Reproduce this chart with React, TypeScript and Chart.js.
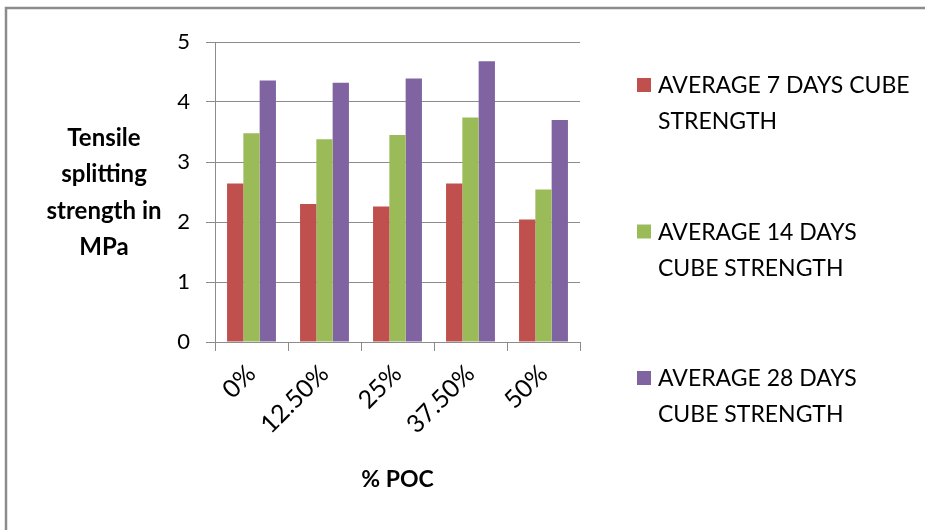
import React, { useEffect, useRef } from "react";
import { Chart, registerables } from "chart.js";

Chart.register(...registerables);

const categories = ["0%", "12.50%", "25%", "37.50%", "50%"];
const day7 = [2.64, 2.3, 2.26, 2.64, 2.04];
const day14 = [3.48, 3.38, 3.45, 3.74, 2.54];
const day28 = [4.36, 4.32, 4.39, 4.68, 3.7];
const seriesLabels = [
  ["AVERAGE 7 DAYS CUBE", "STRENGTH"],
  ["AVERAGE 14 DAYS", "CUBE STRENGTH"],
  ["AVERAGE 28 DAYS", "CUBE STRENGTH"],
];
const seriesColors = ["#C0504D", "#9BBB59", "#8064A2"];
const yTitle = ["Tensile", "splitting", "strength in", "MPa"];
const xTitle = "% POC";

const FONT = "Lato, 'Open Sans', sans-serif";

const decorPlugin = {
  id: "decor",
  afterDraw(chart: any) {
    const ctx = chart.ctx as CanvasRenderingContext2D;
    const area = chart.chartArea;
    ctx.save();
    ctx.strokeStyle = "#8c8c8c";
    ctx.lineWidth = 2.5;
    ctx.beginPath();
    ctx.moveTo(6, 530);
    ctx.lineTo(6, 8);
    ctx.lineTo(925, 8);
    ctx.stroke();

    ctx.fillStyle = "#000";
    ctx.font = `bold 24px ${FONT}`;
    ctx.textAlign = "center";
    ctx.textBaseline = "middle";
    const yMid = (area.top + area.bottom) / 2;
    const lh = 36.5;
    yTitle.forEach((t, i) => {
      ctx.fillText(t, 104, yMid + (i - (yTitle.length - 1) / 2) * lh + 1);
    });

    ctx.font = `bold 23px ${FONT}`;
    ctx.fillText(xTitle, (area.left + area.right) / 2, 480);

    ctx.font = `23px ${FONT}`;
    ctx.textAlign = "left";
    const datasets = chart.data.datasets;
    datasets.forEach((ds: any, i: number) => {
      const y0 = 85 + i * 146.5;
      ctx.fillStyle = ds.backgroundColor;
      ctx.fillRect(637, y0 - 7, 14, 14);
      ctx.fillStyle = "#000";
      const lines = seriesLabels[i];
      lines.forEach((ln, j) => {
        ctx.fillText(ln, 658, y0 + j * 36 + 1);
      });
    });
    ctx.restore();
  },
};

export default function App() {
  const ref = useRef<HTMLCanvasElement | null>(null);
  useEffect(() => {
    document.body.style.margin = "0";
    const canvas = ref.current!;
    const chart = new Chart(canvas, {
      type: "bar",
      data: {
        labels: categories,
        datasets: [
          { label: seriesLabels[0].join(" "), data: day7, backgroundColor: seriesColors[0] },
          { label: seriesLabels[1].join(" "), data: day14, backgroundColor: seriesColors[1] },
          { label: seriesLabels[2].join(" "), data: day28, backgroundColor: seriesColors[2] },
        ],
      },
      options: {
        animation: false,
        responsive: false,
        maintainAspectRatio: false,
        datasets: { bar: { categoryPercentage: 0.67, barPercentage: 1 } },
        layout: { padding: { left: 0, top: 42, right: 345, bottom: 0 } },
        plugins: { legend: { display: false }, tooltip: { enabled: false } },
        scales: {
          x: {
            afterFit(scale: any) {
              scale.height = 188;
            },
            grid: {
              display: true,
              drawOnChartArea: false,
              drawTicks: true,
              tickLength: 9,
              color: "#8c8c8c",
              offset: true,
            },
            border: { display: true, color: "#8c8c8c", width: 1 },
            ticks: {
              minRotation: 45,
              maxRotation: 45,
              color: "#000",
              font: { family: FONT, size: 25 },
              padding: 8,
            },
          },
          y: {
            min: 0,
            max: 5,
            afterFit(scale: any) {
              scale.width = 215;
            },
            grid: {
              color: "#8c8c8c",
              tickLength: 9,
              drawTicks: true,
            },
            border: { display: true, color: "#8c8c8c", width: 1 },
            ticks: {
              stepSize: 1,
              color: "#000",
              font: { family: FONT, size: 22 },
              padding: 16,
            },
          },
        },
      },
      plugins: [decorPlugin],
    });
    return () => chart.destroy();
  }, []);
  return (
    <div style={{ position: "absolute", left: 0, top: 0, width: 925, height: 530, background: "#fff" }}>
      <canvas ref={ref} width={925} height={530} style={{ width: 925, height: 530, display: "block" }} />
    </div>
  );
}
